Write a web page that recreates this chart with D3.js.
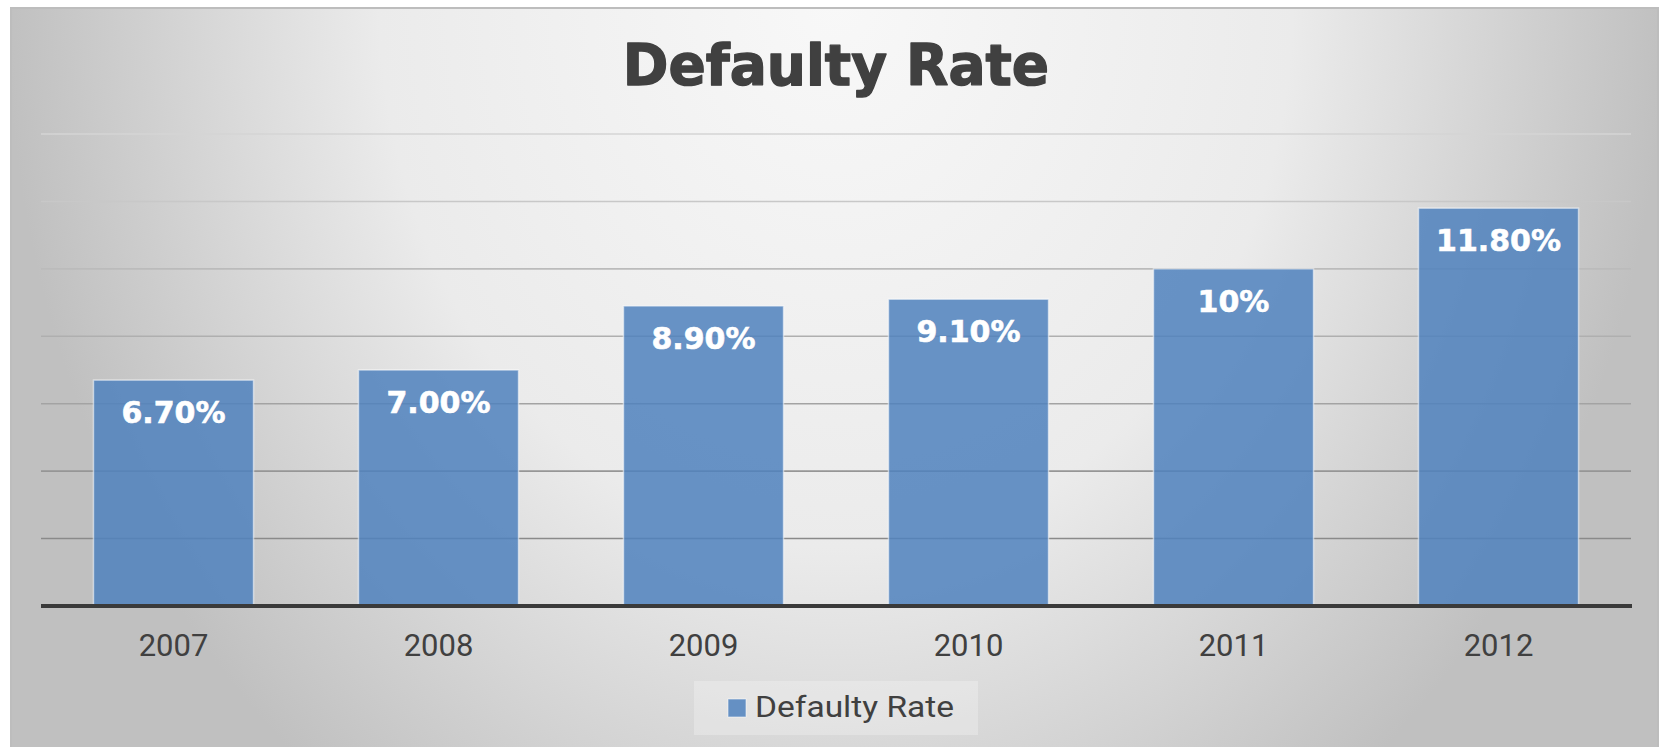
<!DOCTYPE html>
<html>
<head>
<meta charset="utf-8">
<script src="https://cdn.jsdelivr.net/npm/d3@7"></script>
<style>
  html, body { margin: 0; padding: 0; background: #ffffff; }
  svg { display: block; }
</style>
</head>
<body>
<svg id="chart" width="1663" height="747"></svg>
<script>
// ---- data ----
const chartTitle = "Defaulty Rate";
const seriesName = "Defaulty Rate";
const categories = ["2007", "2008", "2009", "2010", "2011", "2012"];
const values = [6.7, 7.0, 8.9, 9.1, 10, 11.8];
const valueLabels = ["6.70%", "7.00%", "8.90%", "9.10%", "10%", "11.80%"];
const gridValues = [2, 4, 6, 8, 10, 12, 14];

// ---- layout ----
const W = 1663, H = 747;
const plot = { left: 41, right: 1631, top: 134, bottom: 606 };
const svg = d3.select("#chart");

const defs = svg.append("defs");
const bg = defs.append("radialGradient")
  .attr("id", "bg")
  .attr("gradientUnits", "userSpaceOnUse")
  .attr("cx", 836).attr("cy", 0).attr("r", 830)
  .attr("fx", 836).attr("fy", 0)
  .attr("gradientTransform", "translate(836,0) scale(1,1.2) translate(-836,0)");
bg.append("stop").attr("offset", 0).attr("stop-color", "#f8f8f8");
bg.append("stop").attr("offset", 0.55).attr("stop-color", "#ebebeb");
bg.append("stop").attr("offset", 1).attr("stop-color", "#c0c0c0");

// chart frame
svg.append("rect")
  .attr("x", 11).attr("y", 8).attr("width", 1647).attr("height", 745)
  .attr("fill", "url(#bg)")
  .attr("stroke", "#bdbdbd").attr("stroke-width", 2);

// scales
const x = d3.scaleBand()
  .domain(categories)
  .range([plot.left, plot.right])
  .paddingInner(0.396)
  .paddingOuter(0.198);
const y = d3.scaleLinear().domain([0, 14]).range([plot.bottom, plot.top]);

// gridlines
const gridColor = d3.scaleLinear().domain([2, 14]).range(["#8a8a8a", "#d4d4d4"]);
svg.append("g").selectAll("line")
  .data(gridValues)
  .join("line")
  .attr("x1", plot.left).attr("x2", plot.right)
  .attr("y1", d => y(d)).attr("y2", d => y(d))
  .attr("stroke", d => gridColor(d))
  .attr("stroke-width", 1.6);

// bars
svg.append("g").selectAll("rect")
  .data(values)
  .join("rect")
  .attr("x", (d, i) => x(categories[i]))
  .attr("y", d => y(d))
  .attr("width", x.bandwidth())
  .attr("height", d => y(0) - y(d))
  .attr("fill", "#4f81bd")
  .attr("fill-opacity", 0.85)
  .attr("stroke", "#ffffff")
  .attr("stroke-opacity", 0.55)
  .attr("stroke-width", 1.5);

// value labels
svg.append("g").selectAll("text")
  .data(values)
  .join("text")
  .attr("x", (d, i) => x(categories[i]) + x.bandwidth() / 2)
  .attr("y", d => y(d) + 43)
  .attr("text-anchor", "middle")
  .attr("font-family", "DejaVu Sans")
  .attr("font-weight", "bold")
  .attr("font-size", 30)
  .attr("fill", "#ffffff")
  .attr("stroke", "#ffffff")
  .attr("stroke-width", 0.6)
  .text((d, i) => valueLabels[i]);

// x axis
const xAxis = d3.axisBottom(x).tickSize(0).tickPadding(28);
const gx = svg.append("g")
  .attr("transform", `translate(0,${plot.bottom})`)
  .call(xAxis);
gx.select(".domain").remove();
gx.selectAll("text")
  .attr("font-family", "Roboto")
  .attr("font-size", 31)
  .attr("fill", "#404040");
svg.append("line")
  .attr("x1", plot.left).attr("x2", plot.right + 1)
  .attr("y1", plot.bottom).attr("y2", plot.bottom)
  .attr("stroke", "#3a3a3a").attr("stroke-width", 4);

// title (heavy sans)
const cx = (plot.left + plot.right) / 2;
svg.append("text")
  .attr("transform", `translate(${cx},85) scale(0.965,1)`)
  .attr("x", 0).attr("y", 0)
  .attr("text-anchor", "middle")
  .attr("font-family", "DejaVu Sans")
  .attr("font-weight", "bold")
  .attr("font-size", 57)
  .attr("fill", "#404040")
  .attr("stroke", "#404040")
  .attr("stroke-width", 1.4)
  .attr("stroke-linejoin", "round")
  .text(chartTitle);

// legend
const lg = svg.append("g");
lg.append("rect")
  .attr("x", 694).attr("y", 681).attr("width", 284).attr("height", 54)
  .attr("fill", "#ffffff").attr("fill-opacity", 0.25);
lg.append("rect")
  .attr("x", 728).attr("y", 699).attr("width", 18).attr("height", 18)
  .attr("fill", "#4f81bd").attr("fill-opacity", 0.85)
  .attr("stroke", "#ffffff").attr("stroke-opacity", 0.55).attr("stroke-width", 1);
lg.append("text")
  .attr("x", 755).attr("y", 717)
  .attr("font-family", "Roboto")
  .attr("font-size", 30)
  .attr("fill", "#404040")
  .attr("textLength", 199)
  .attr("lengthAdjust", "spacingAndGlyphs")
  .text(seriesName);
</script>
</body>
</html>
